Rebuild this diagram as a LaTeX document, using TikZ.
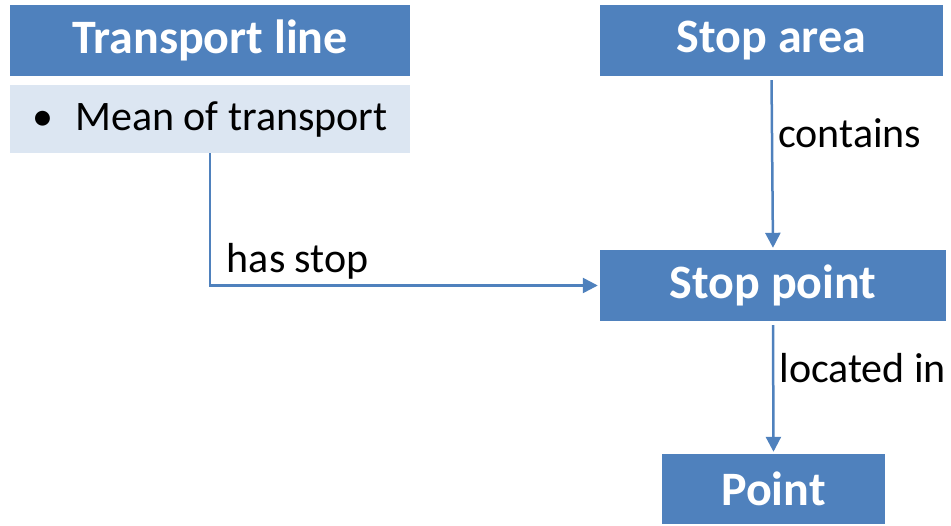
\documentclass[tikz,border=0pt]{standalone}
\usepackage{fontspec}
\setmainfont{Carlito}
\usetikzlibrary{positioning,arrows.meta}
\definecolor{boxblue}{RGB}{79,129,189}
\definecolor{paleblue}{RGB}{220,230,242}
\tikzset{
        head/.style={fill=boxblue, text=white, font=\fontsize{48}{52}\selectfont\bfseries, inner sep=0pt}, % the dark title boxes
        attr/.style={fill=paleblue, font=\fontsize{42}{46}\selectfont, inner sep=0pt}, % the attribute box
        rel/.style={draw=boxblue, line width=2.5pt, -{Triangle[width=15pt,length=15pt]}, shorten <=4pt, shorten >=2pt},
        lab/.style={font=\fontsize{42}{46}\selectfont, inner sep=0pt},
}
\begin{document}
\begin{tikzpicture}[x=1pt,y=-1pt]
\useasboundingbox (0,0) rectangle (951,526);

\node[head, minimum width=400pt, minimum height=71pt] (tline) at (210,40.5) {Transport line};
\node[attr, minimum width=400pt, minimum height=68pt] (tmean) at (210,119) {\textbullet\hspace{22pt}Mean of transport\hspace{12pt}};

\node[head, minimum width=343pt, minimum height=71pt] (sarea) at (771.5,40.5) {Stop area};
\node[head, minimum width=346pt, minimum height=71pt] (spoint) at (773,285.5) {Stop point};
\node[head, minimum width=223pt, minimum height=70pt] (point) at (773.5,489) {Point};

% relations
\draw[rel, shorten <=0pt] (tmean.south) |- (spoint.west) node[lab, pos=0.52, anchor=south west, yshift=5pt] {has stop};
\draw[rel] (sarea.south) -- (spoint.north) node[lab, pos=0.33, right=5pt] {contains};
\draw[rel] (spoint.south) -- (point.north) node[lab, pos=0.35, right=5pt] {located in};

\end{tikzpicture}
\end{document}
